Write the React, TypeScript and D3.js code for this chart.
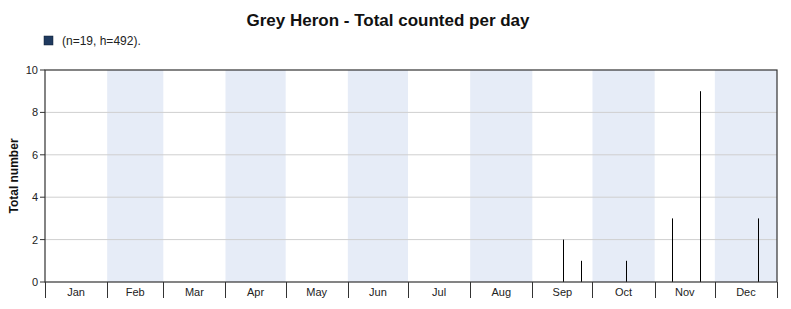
import React from "react";
import * as d3 from "d3";

const title = "Grey Heron - Total counted per day";
const legendText = "(n=19, h=492).";
const monthLabels = ["Jan", "Feb", "Mar", "Apr", "May", "Jun", "Jul", "Aug", "Sep", "Oct", "Nov", "Dec"];
const obsDates = ["2023-09-16", "2023-09-25", "2023-10-17", "2023-11-09", "2023-11-23", "2023-12-22"];
const obsCounts = [2, 1, 1, 3, 9, 3];
const yTicks = [0, 2, 4, 6, 8, 10];

export default function App() {
  const W = 791, H = 309;
  const m = { left: 45, right: 777, top: 70, bottom: 282 };
  const x = d3.scaleTime()
    .domain([new Date(2023, 0, 1), new Date(2024, 0, 1)])
    .range([m.left, m.right]);
  const y = d3.scaleLinear().domain([0, 10]).range([m.bottom, m.top]);
  const months = d3.range(13).map((i) => new Date(2023, i, 1));
  const parse = d3.timeParse("%Y-%m-%d %H");
  const font = "Liberation Sans, Arial, sans-serif";

  return (
    <svg width={W} height={H} style={{ position: "absolute", left: 0, top: 0 }} fontFamily={font}>
      <rect x={0} y={0} width={W} height={H} fill="#fff" />
      <text x={388} y={26} textAnchor="middle" fontSize={17} fontWeight="bold" fill="#111">{title}</text>
      <rect x={44} y={36} width={9} height={9} fill="#1f3a5f" stroke="#0d1f33" strokeWidth={0.5} />
      <text x={62} y={45} fontSize={12} fill="#222">{legendText}</text>
      {monthLabels.map((lab, i) =>
        i % 2 === 1 ? (
          <rect key={"s" + i} x={x(months[i])} y={m.top} width={x(months[i + 1]) - x(months[i])}
            height={m.bottom - m.top} fill="#e6ecf7" />
        ) : null
      )}
      {yTicks.filter((t) => t > 0 && t < 10).map((t) => (
        <line key={"g" + t} x1={m.left} x2={m.right} y1={y(t)} y2={y(t)} stroke="#cfcfcf" strokeWidth={1} />
      ))}
      {obsDates.map((d, i) => {
        const xx = Math.round(x(parse(d + " 12")!)) + 0.5;
        return <line key={"b" + i} x1={xx} x2={xx} y1={y(0)} y2={y(obsCounts[i])} stroke="#000" strokeWidth={1} />;
      })}
      <rect x={m.left} y={m.top} width={m.right - m.left} height={m.bottom - m.top} fill="none" stroke="#333" strokeWidth={1.2} />
      {yTicks.map((t) => (
        <g key={"y" + t}>
          <line x1={m.left - 5} x2={m.left} y1={y(t)} y2={y(t)} stroke="#333" />
          <text x={m.left - 7} y={y(t) + 4} textAnchor="end" fontSize={11} fill="#222">{t}</text>
        </g>
      ))}
      {months.map((d, i) => (
        <line key={"t" + i} x1={Math.round(x(d)) + 0.5} x2={Math.round(x(d)) + 0.5} y1={m.bottom} y2={m.bottom + 16} stroke="#333" strokeWidth={1} />
      ))}
      {monthLabels.map((lab, i) => (
        <text key={"l" + i} x={(x(months[i]) + x(months[i + 1])) / 2} y={m.bottom + 14} textAnchor="middle" fontSize={11} fill="#222">{lab}</text>
      ))}
      <text transform={`translate(18,${(m.top + m.bottom) / 2}) rotate(-90)`} textAnchor="middle" fontSize={12} fontWeight="bold" fill="#111">Total number</text>
    </svg>
  );
}
